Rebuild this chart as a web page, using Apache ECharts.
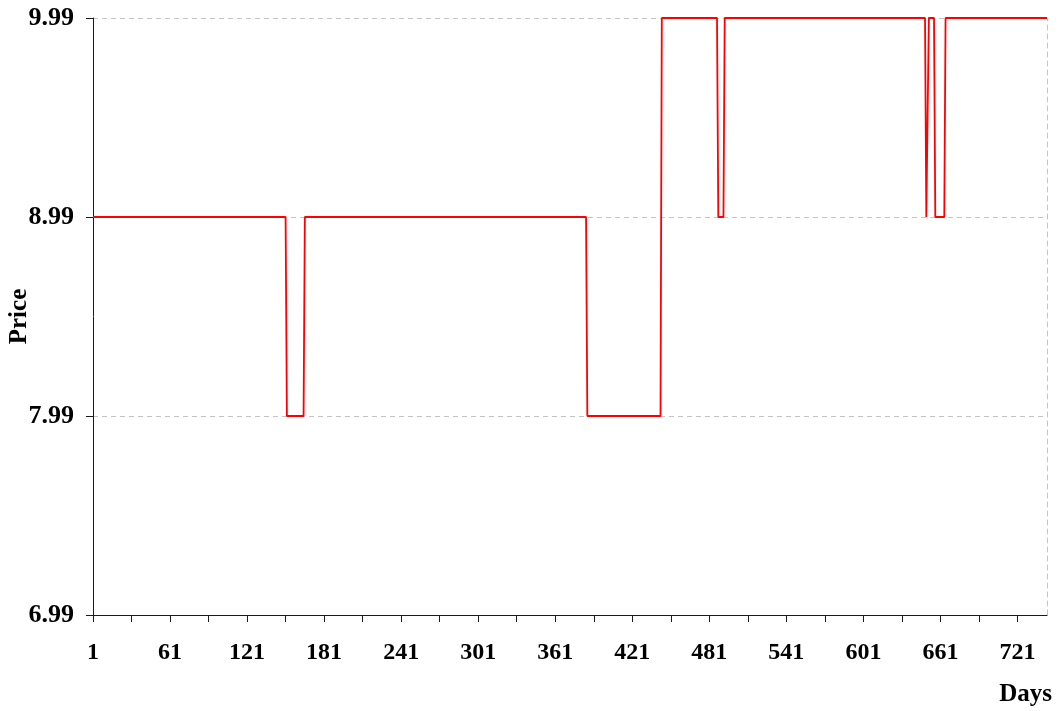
<!DOCTYPE html>
<html>
<head>
<meta charset="utf-8">
<script src="https://cdn.jsdelivr.net/npm/echarts@6/dist/echarts.min.js"></script>
<style>
  html, body { margin: 0; padding: 0; background: #fff; }
  #chart { width: 1060px; height: 711px; }
</style>
</head>
<body>
<div id="chart"></div>
<script>
// Daily price: the days where the price changes, and the price on each of those days
const days   = [1, 151, 152, 165, 166, 385, 386, 443, 444, 487, 488, 492, 493, 649, 650, 651, 652, 656, 657, 664, 665, 744];
const prices = [8.99, 8.99, 7.99, 7.99, 8.99, 8.99, 7.99, 7.99, 9.99, 9.99, 8.99, 8.99, 9.99, 9.99, 8.99, 8.99, 9.99, 9.99, 8.99, 8.99, 9.99, 9.99];

// Axis ranges and tick marks
const dayMin = 1, dayMax = 744;
const dayTicks  = [1, 31, 61, 91, 121, 151, 181, 211, 241, 271, 301, 331, 361, 391, 421, 451, 481, 511, 541, 571, 601, 631, 661, 691, 721];
const dayLabels = [1, 61, 121, 181, 241, 301, 361, 421, 481, 541, 601, 661, 721];
const priceTicks = [6.99, 7.99, 8.99, 9.99];

const font = 'Liberation Serif, Times New Roman, serif';
const axisColor = '#1a1a1a';
const gridStyle = { color: '#c4c4c4', type: [5, 4], width: 1 };

const chart = echarts.init(document.getElementById('chart'), null, { renderer: 'canvas' });

chart.setOption({
  backgroundColor: '#ffffff',
  animation: false,
  grid: { left: 93, right: 13, top: 18, bottom: 96, containLabel: false, outerBoundsMode: 'none' },
  xAxis: {
    type: 'value',
    min: dayMin,
    max: dayMax,
    name: 'Days',
    nameLocation: 'end',
    nameGap: 5,
    nameMoveOverlap: false,
    nameTextStyle: {
      fontFamily: font, fontWeight: 'bold', fontSize: 25, color: '#000',
      align: 'right', verticalAlign: 'top', padding: [67, 0, 0, 0]
    },
    axisLine: { show: true, lineStyle: { color: axisColor, width: 1 } },
    axisTick: { show: true, inside: false, length: 7, customValues: dayTicks, lineStyle: { color: axisColor } },
    axisLabel: {
      customValues: dayLabels,
      margin: 26,
      fontFamily: font, fontWeight: 'bold', fontSize: 24, color: '#000'
    },
    splitLine: { show: false }
  },
  yAxis: [
    {
      type: 'value',
      min: 6.99,
      max: 9.99,
      name: 'Price',
      nameLocation: 'middle',
      nameGap: 61,
      nameRotate: 90,
      nameMoveOverlap: false,
      nameTextStyle: { fontFamily: font, fontWeight: 'bold', fontSize: 25, color: '#000' },
      axisLine: { show: true, lineStyle: { color: axisColor, width: 1 } },
      axisTick: { show: true, inside: false, length: 7, customValues: priceTicks, lineStyle: { color: axisColor } },
      axisLabel: {
        customValues: priceTicks,
        margin: 19,
        formatter: v => Number(v).toFixed(2),
        fontFamily: font, fontWeight: 'bold', fontSize: 26, color: '#000'
      },
      splitLine: { show: true, lineStyle: gridStyle }
    },
    {
      // dashed frame line on the right edge of the plot
      type: 'value',
      position: 'right',
      min: 6.99,
      max: 9.99,
      axisLine: { show: true, lineStyle: gridStyle },
      axisTick: { show: false },
      axisLabel: { show: false },
      splitLine: { show: false }
    }
  ],
  series: [
    {
      type: 'line',
      yAxisIndex: 0,
      data: days.map((d, i) => [d, prices[i]]),
      showSymbol: false,
      symbol: 'none',
      lineStyle: { color: '#ff0000', width: 1.8 },
      z: 5
    }
  ]
});
</script>
</body>
</html>
